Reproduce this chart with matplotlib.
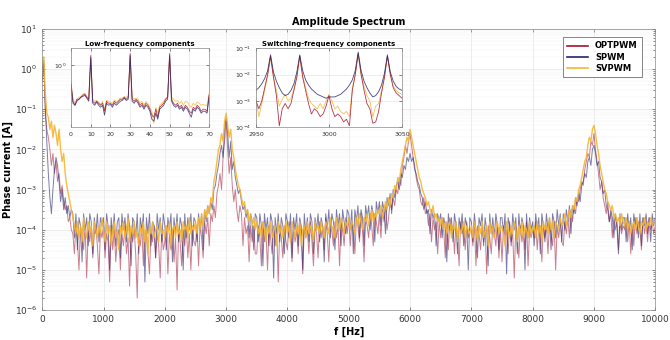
import numpy as np
import matplotlib.pyplot as plt
from matplotlib.ticker import LogLocator, NullFormatter

# ---- main spectrum, log10 amplitude every 25 Hz (0 ... 10000 Hz) ----
freq_step = 25
opt_main = [
    0.0, 0.25, -1.1, -1.5, -1.7, -2.0, -2.4, -2.1, -2.6, -2.3, -2.8, -2.6, -3.1, -2.9, -3.3, -3.5, -3.4, -3.8, -3.7, -4.0,
    -4.1, -4.6, -3.9, -4.3, -5.0, -3.9, -4.2, -4.5, -3.9, -5.2, -4.0, -4.3, -3.9, -4.7, -4.1, -3.9, -4.4, -5.1, -4.0, -4.2,
    -3.9, -4.7, -4.1, -4.3, -5.3, -3.9, -4.5, -4.0, -4.8, -4.2, -4.0, -5.0, -4.1, -4.4, -3.9, -4.6, -4.2, -5.4, -4.0, -4.3,
    -4.0, -4.6, -5.7, -4.1, -4.4, -3.9, -4.9, -4.2, -4.0, -4.6, -5.1, -4.0, -4.3, -3.9, -4.7, -4.1, -4.4, -5.2, -4.0, -4.5,
    -4.3, -3.9, -5.1, -4.1, -4.5, -4.0, -4.8, -4.2, -5.5, -4.0, -4.3, -4.9, -4.0, -4.4, -3.9, -4.7, -4.1, -5.0, -4.0, -4.3,
    -4.4, -3.9, -4.9, -3.9, -4.2, -4.7, -3.8, -4.1, -3.7, -4.4, -3.6, -3.8, -3.4, -3.7, -3.1, -2.9, -2.6, -3.0, -2.2, -1.8,
    -1.3, -2.0, -2.6, -2.2, -2.9, -3.3, -3.0, -3.5, -3.8, -3.4, -3.6, -4.4, -3.7, -4.1, -3.9, -4.8, -3.9, -4.3, -3.9, -4.6,
    -4.6, -3.9, -4.2, -4.9, -3.8, -4.3, -4.0, -5.0, -3.9, -4.2, -4.6, -3.9, -4.4, -4.0, -5.3, -3.9, -4.2, -4.7, -3.9, -4.3,
    -4.5, -3.8, -4.1, -4.8, -3.9, -4.3, -4.0, -4.6, -3.8, -4.1, -5.1, -3.9, -4.2, -4.0, -4.6, -3.8, -4.3, -4.9, -3.9, -4.1,
    -4.7, -3.8, -4.2, -3.9, -4.5, -3.7, -4.1, -4.8, -3.8, -4.0, -4.4, -3.8, -4.2, -3.9, -4.9, -3.8, -4.0, -4.4, -3.7, -4.1,
    -3.7, -4.4, -3.8, -4.0, -4.6, -3.7, -3.9, -4.3, -3.6, -4.0, -4.8, -3.7, -3.9, -4.2, -3.6, -3.9, -4.4, -3.6, -3.8, -4.1,
    -3.6, -4.2, -3.5, -3.8, -3.4, -4.0, -3.7, -3.3, -3.5, -3.2, -3.4, -3.0, -3.1, -2.7, -2.9, -2.4, -2.2, -1.9, -2.1, -1.8,
    -1.6, -1.9, -2.2, -2.4, -2.7, -2.9, -3.0, -3.3, -3.4, -3.2, -3.6, -3.5, -3.9, -3.6, -4.3, -3.7, -4.0, -3.8, -4.6, -3.8,
    -4.2, -3.7, -4.0, -4.7, -3.8, -4.5, -3.7, -4.1, -3.9, -4.6, -3.8, -4.2, -4.9, -3.8, -4.1, -3.9, -4.5, -3.8, -4.2, -4.0,
    -4.0, -4.4, -3.8, -4.9, -3.9, -4.1, -4.5, -3.9, -4.3, -4.0, -5.1, -3.9, -4.2, -4.6, -3.9, -4.1, -4.4, -3.8, -4.7, -4.0,
    -4.8, -3.9, -4.2, -4.0, -4.6, -3.8, -4.3, -4.1, -5.2, -3.9, -4.2, -4.7, -3.9, -4.3, -4.0, -4.5, -3.8, -4.9, -4.0, -4.2,
    -4.0, -4.2, -3.8, -4.5, -3.9, -4.1, -4.8, -3.8, -4.2, -3.9, -4.6, -3.8, -4.1, -4.4, -3.8, -5.0, -3.9, -4.2, -3.8, -4.3,
    -4.4, -3.8, -4.1, -3.7, -4.2, -3.5, -3.8, -3.4, -3.6, -3.2, -3.3, -3.0, -2.8, -2.9, -2.5, -2.3, -2.1, -2.2, -1.8, -1.9,
    -1.6, -2.0, -2.3, -2.6, -3.0, -2.8, -3.2, -3.4, -3.6, -3.3, -3.8, -3.6, -4.2, -3.7, -4.0, -3.8, -4.5, -3.8, -4.1, -3.9,
    -4.0, -3.7, -4.3, -3.8, -4.6, -3.9, -4.4, -3.7, -4.1, -3.8, -4.0, -4.5, -3.7, -4.1, -3.8, -4.3, -3.7, -4.0, -3.8, -4.1,
    -3.9,
]
spwm_main = [
    -0.3, 0.2, -0.9, -1.8, -2.6, -3.2, -3.6, -3.0, -2.5, -2.2, -2.4, -2.8, -3.3, -3.0, -3.5, -3.2, -3.6, -3.4, -3.7, -3.5,
    -3.6, -4.2, -3.6, -4.5, -3.7, -3.9, -4.8, -3.6, -4.0, -3.7, -4.4, -3.6, -3.8, -4.6, -3.7, -4.1, -3.6, -4.3, -3.7, -3.9,
    -3.7, -4.5, -3.6, -3.9, -5.0, -3.7, -4.1, -3.6, -4.4, -3.8, -3.7, -4.7, -3.6, -4.0, -3.7, -4.3, -3.6, -3.9, -4.9, -3.7,
    -3.8, -4.2, -3.6, -4.6, -3.7, -4.0, -3.6, -5.3, -3.7, -4.1, -3.6, -4.4, -3.8, -3.9, -4.7, -3.6, -4.0, -3.7, -4.3, -3.6,
    -3.9, -4.5, -3.7, -4.0, -3.6, -4.8, -3.7, -4.1, -3.6, -4.3, -3.7, -3.9, -5.0, -3.6, -4.2, -3.7, -4.0, -3.6, -4.4, -3.7,
    -3.8, -4.3, -3.6, -4.0, -3.6, -4.5, -3.5, -3.8, -3.4, -3.6, -3.3, -3.5, -3.0, -2.9, -2.6, -2.4, -2.1, -1.9, -2.2, -1.5,
    -1.2, -1.6, -2.2, -1.8, -2.5, -2.3, -2.7, -2.9, -3.1, -3.0, -3.3, -3.5, -3.4, -3.7, -3.5, -4.2, -3.6, -3.8, -4.5, -3.6,
    -3.7, -4.3, -3.6, -3.9, -4.9, -3.6, -4.0, -3.7, -4.4, -3.6, -3.8, -5.2, -3.7, -4.1, -3.6, -4.3, -3.7, -3.9, -4.6, -3.6,
    -3.8, -4.2, -3.6, -4.7, -3.7, -4.0, -3.6, -4.4, -3.7, -3.9, -5.0, -3.6, -4.1, -3.7, -4.3, -3.6, -3.8, -4.6, -3.7, -4.0,
    -3.6, -4.3, -3.7, -3.9, -4.8, -3.6, -4.0, -3.5, -4.2, -3.6, -3.8, -4.5, -3.5, -3.9, -3.6, -4.4, -3.5, -3.8, -4.1, -3.5,
    -3.6, -4.0, -3.5, -4.6, -3.5, -3.8, -3.4, -4.2, -3.5, -3.7, -4.4, -3.4, -3.7, -3.4, -4.0, -3.4, -3.6, -4.3, -3.3, -3.6,
    -3.3, -3.9, -3.3, -3.5, -4.1, -3.2, -3.4, -3.1, -3.6, -3.0, -3.2, -2.9, -2.8, -3.0, -2.6, -2.7, -2.4, -2.5, -2.2, -2.3,
    -2.1, -2.3, -2.2, -2.5, -2.6, -2.8, -2.9, -3.1, -3.2, -3.5, -3.3, -3.6, -3.5, -4.1, -3.5, -3.7, -3.6, -4.4, -3.6, -3.8,
    -3.6, -4.2, -3.7, -3.9, -4.8, -3.6, -4.0, -3.7, -4.3, -3.6, -3.9, -4.6, -3.7, -4.0, -3.6, -4.4, -3.7, -3.9, -5.0, -3.7,
    -3.8, -4.3, -3.6, -4.0, -4.7, -3.7, -3.9, -3.6, -4.4, -3.7, -4.0, -4.9, -3.6, -4.1, -3.7, -4.2, -3.6, -3.9, -4.5, -3.7,
    -3.7, -4.1, -3.6, -5.1, -3.7, -3.9, -4.4, -3.6, -4.0, -3.7, -4.6, -3.6, -4.1, -3.7, -3.9, -5.0, -3.6, -4.2, -3.7, -4.0,
    -3.8, -4.4, -3.6, -4.0, -3.7, -4.6, -3.6, -3.9, -4.3, -3.6, -4.0, -3.7, -4.5, -3.6, -3.8, -4.2, -3.5, -3.9, -3.6, -4.3,
    -3.6, -4.0, -3.5, -3.8, -3.4, -4.1, -3.4, -3.6, -3.2, -3.4, -3.1, -3.3, -2.9, -2.8, -2.6, -2.7, -2.3, -2.2, -2.4, -2.0,
    -1.9, -2.1, -2.4, -2.3, -2.7, -2.8, -3.1, -3.0, -3.4, -3.5, -3.8, -3.5, -3.7, -4.2, -3.6, -3.9, -4.6, -3.6, -4.0, -3.7,
    -3.7, -4.3, -3.6, -4.0, -3.7, -4.5, -3.6, -3.9, -3.7, -4.2, -3.6, -4.4, -3.7, -3.9, -3.6, -4.1, -3.7, -4.3, -3.6, -3.9,
    -3.7,
]
svpwm_main = [
    0.1, 0.3, -0.6, -1.1, -1.2, -1.5, -1.3, -1.7, -1.4, -1.6, -1.9, -1.5, -2.0, -2.3, -2.1, -2.6, -2.9, -3.1, -3.3, -3.5,
    -3.7, -3.9, -4.1, -3.8, -4.2, -3.9, -4.3, -3.7, -4.0, -4.2, -3.8, -4.1, -3.9, -4.4, -3.8, -4.0, -4.2, -3.9, -4.1, -3.7,
    -4.0, -4.3, -3.8, -4.1, -3.9, -4.4, -4.0, -3.8, -4.2, -4.0, -4.5, -3.9, -4.1, -3.8, -4.2, -4.0, -3.7, -4.3, -3.9, -4.1,
    -3.8, -4.2, -4.0, -4.4, -3.9, -4.1, -3.8, -4.3, -4.0, -4.6, -3.9, -4.1, -3.8, -4.2, -4.0, -3.9, -4.3, -3.8, -4.1, -4.0,
    -4.2, -3.9, -4.1, -3.8, -4.4, -4.0, -3.9, -4.2, -3.8, -4.1, -4.0, -4.3, -3.8, -4.0, -3.9, -4.2, -3.7, -4.1, -3.9, -4.0,
    -3.8, -4.1, -3.7, -4.0, -3.6, -3.9, -3.5, -3.7, -3.4, -3.6, -3.2, -3.3, -2.8, -2.6, -2.3, -2.0, -1.9, -1.6, -1.8, -1.3,
    -1.1, -1.4, -1.7, -1.5, -2.0, -2.2, -2.5, -2.7, -2.9, -3.0, -3.2, -3.4, -3.3, -3.6, -3.5, -3.8, -3.6, -3.9, -3.7, -4.0,
    -3.8, -4.1, -3.9, -4.2, -3.8, -4.0, -4.3, -3.9, -4.1, -3.8, -4.2, -4.0, -3.9, -4.4, -3.8, -4.1, -3.9, -4.2, -4.0, -3.8,
    -4.1, -3.9, -4.3, -3.8, -4.0, -4.2, -3.9, -4.1, -3.8, -4.4, -4.0, -3.9, -4.2, -3.8, -4.1, -3.9, -4.0, -4.3, -3.8, -4.0,
    -3.9, -4.1, -3.8, -4.0, -4.2, -3.8, -3.9, -4.1, -3.7, -4.0, -3.9, -4.2, -3.7, -3.9, -4.0, -3.7, -3.9, -4.1, -3.8, -3.9,
    -3.7, -4.0, -3.8, -3.9, -4.1, -3.7, -3.9, -3.6, -3.8, -4.0, -3.7, -3.8, -3.6, -3.9, -3.7, -3.5, -3.8, -3.6, -3.7, -3.5,
    -3.6, -3.4, -3.7, -3.5, -3.3, -3.5, -3.2, -3.4, -3.1, -3.2, -2.9, -3.0, -2.7, -2.8, -2.5, -2.3, -2.1, -1.9, -1.7, -1.8,
    -1.5, -1.7, -1.9, -2.1, -2.3, -2.5, -2.7, -2.8, -3.0, -3.1, -3.2, -3.4, -3.3, -3.5, -3.6, -3.4, -3.7, -3.6, -3.8, -3.7,
    -3.9, -3.7, -4.0, -3.8, -4.1, -3.9, -3.8, -4.2, -3.9, -4.0, -3.8, -4.3, -3.9, -4.1, -4.0, -3.8, -4.2, -3.9, -4.0, -4.1,
    -3.9, -4.2, -3.8, -4.0, -4.3, -3.9, -4.1, -3.8, -4.2, -4.0, -3.9, -4.4, -3.8, -4.1, -3.9, -4.2, -4.0, -3.8, -4.1, -4.0,
    -3.9, -4.1, -4.4, -3.8, -4.0, -4.2, -3.9, -4.1, -3.8, -4.0, -4.3, -3.9, -4.1, -3.8, -4.2, -3.9, -4.0, -4.2, -3.8, -4.1,
    -4.0, -3.9, -4.2, -3.8, -4.1, -3.9, -4.3, -3.8, -4.0, -3.9, -4.1, -3.7, -4.0, -3.8, -4.2, -3.8, -3.9, -4.0, -3.7, -3.9,
    -3.8, -3.6, -3.9, -3.7, -3.5, -3.7, -3.4, -3.5, -3.2, -3.3, -3.0, -2.9, -2.7, -2.5, -2.3, -2.2, -1.9, -1.7, -1.8, -1.5,
    -1.4, -1.6, -1.9, -2.1, -2.4, -2.6, -2.8, -3.0, -3.1, -3.3, -3.4, -3.5, -3.4, -3.7, -3.6, -3.8, -3.7, -3.9, -3.6, -3.8,
    -3.9, -3.7, -4.0, -3.8, -4.1, -3.9, -3.8, -4.0, -3.7, -3.9, -4.1, -3.8, -3.9, -3.7, -4.0, -3.8, -3.9, -3.7, -3.9, -3.8,
    -3.8,
]

# ---- low-frequency inset, log10 amplitude every 1 Hz (0 ... 70 Hz) ----
opt_low = [
    -0.45, -0.9, -1.0, -0.85, -0.85, -0.8, -0.75, -0.72, -0.8, -0.85,
    0.25, -0.9, -0.95, -0.9, -0.95, -1.0, -0.95, -1.15, -0.9, -0.95,
    -0.95, -1.0, -0.9, -0.95, -0.9, -0.85, -0.85, -0.8, -0.85, -0.8,
    0.3, -0.85, -0.9, -0.85, -0.9, -1.0, -0.95, -1.05, -0.95, -1.0,
    -1.1, -1.25, -1.3, -1.1, -1.3, -1.05, -1.0, -0.95, -0.85, -0.8,
    0.3, -0.85, -0.95, -1.0, -0.95, -1.05, -1.0, -1.1, -1.0, -1.05,
    -1.15, -1.2, -1.05, -1.1, -1.0, -1.05, -1.15, -1.1, -1.1, -1.15,
    -0.75,
]
spwm_low = [
    -0.5, -0.95, -1.0, -0.9, -0.85, -0.8, -0.78, -0.75, -0.82, -0.9,
    0.2, -0.95, -1.0, -0.92, -1.0, -1.05, -1.0, -1.25, -0.95, -1.0,
    -0.98, -1.05, -0.95, -1.0, -0.95, -0.9, -0.88, -0.82, -0.88, -0.85,
    0.25, -0.9, -0.95, -0.88, -0.95, -1.05, -1.0, -1.1, -1.0, -1.05,
    -1.15, -1.35, -1.4, -1.2, -1.35, -1.1, -1.05, -1.0, -0.9, -0.85,
    0.25, -0.9, -1.0, -1.05, -1.0, -1.1, -1.05, -1.15, -1.05, -1.1,
    -1.2, -1.3, -1.1, -1.15, -1.05, -1.1, -1.2, -1.15, -1.15, -1.2,
    -0.8,
]
svpwm_low = [
    -0.4, -0.85, -0.95, -0.85, -0.8, -0.78, -0.72, -0.7, -0.78, -0.82,
    0.15, -0.85, -0.9, -0.88, -0.92, -0.98, -0.9, -1.1, -0.88, -0.9,
    -0.92, -0.95, -0.88, -0.9, -0.88, -0.82, -0.82, -0.78, -0.8, -0.78,
    0.2, -0.8, -0.85, -0.82, -0.85, -0.95, -0.9, -1.0, -0.9, -0.95,
    -1.05, -1.15, -1.45, -1.05, -1.2, -1.0, -0.95, -0.9, -0.82, -0.78,
    0.2, -0.8, -0.85, -0.9, -0.88, -0.95, -0.9, -1.0, -0.9, -0.92,
    -1.0, -1.05, -0.95, -1.0, -0.92, -0.95, -1.0, -0.98, -1.0, -1.0,
    -0.7,
]

# ---- switching-frequency inset, log10 amplitude every 2 Hz (2950 ... 3050 Hz) ----
spwm_sw = [
    -2.6, -2.5, -2.35, -2.15, -1.85, -1.25, -1.9, -2.25, -2.5, -2.7,
    -2.8, -2.75, -2.6, -2.35, -1.9, -1.25, -1.85, -2.2, -2.4, -2.55,
    -2.65, -2.75, -2.8, -2.85, -2.9, -2.85, -2.85, -2.85, -2.8, -2.75,
    -2.65, -2.55, -2.4, -2.2, -1.85, -1.15, -1.85, -2.25, -2.5, -2.7,
    -2.85, -2.8, -2.65, -2.4, -1.95, -1.25, -1.9, -2.25, -2.45, -2.55,
    -2.6,
]
opt_sw = [
    -3.0, -3.3, -3.0, -2.5, -2.0, -1.3, -2.1, -2.8, -3.95, -3.3,
    -3.1, -3.3, -3.1, -2.6, -2.1, -1.3, -2.1, -2.6, -3.1, -3.5,
    -3.3, -3.4, -3.6, -3.5, -3.2, -2.8, -3.3, -3.6, -3.5, -3.6,
    -3.8, -3.7, -3.95, -2.6, -2.0, -1.2, -2.0, -2.6, -3.1, -3.3,
    -3.85, -3.8, -3.4, -2.7, -2.1, -1.3, -2.0, -2.5, -2.7, -2.8,
    -2.9,
]
svpwm_sw = [
    -2.9, -3.6, -3.1, -2.6, -2.05, -1.35, -2.1, -2.6, -3.2, -2.95,
    -2.75, -3.0, -2.9, -2.55, -2.05, -1.3, -2.05, -2.5, -2.9, -3.1,
    -3.2, -3.3, -3.1, -3.3, -3.0, -2.75, -3.0, -3.3, -3.2, -3.4,
    -3.5, -3.4, -3.6, -2.5, -2.0, -1.25, -2.0, -2.45, -2.8, -3.0,
    -3.6, -3.2, -3.1, -2.6, -2.1, -1.3, -2.0, -2.45, -2.6, -2.7,
    -2.75,
]

names = ['OPTPWM', 'SPWM', 'SVPWM']
colors = ['#A2142F', '#27246E', '#F6B531']

f_main = np.arange(len(opt_main)) * freq_step
f_low = np.arange(len(opt_low))
f_sw = 2950 + np.arange(len(opt_sw)) * 2

plt.rcParams['font.family'] = 'DejaVu Sans'
fig = plt.figure(figsize=(6.7, 3.4), dpi=100)


def style_axes(ax, size):
    ax.tick_params(which='both', direction='in', labelsize=size, top=True, right=True,
                   length=2, width=0.4, colors='#333333')
    ax.tick_params(which='minor', length=1.2)
    ax.grid(True, which='major', color='#dddddd', lw=0.4)
    for s in ax.spines.values():
        s.set_linewidth(0.5)
        s.set_color('#888888')


ax = fig.add_axes([0.063, 0.088, 0.915, 0.827])
series = [opt_main, spwm_main, svpwm_main]
alphas = [0.55, 0.6, 0.9]
widths = [0.7, 0.7, 1.0]
for vals, c, n, a, w in zip(series, colors, names, alphas, widths):
    ax.semilogy(f_main, 10 ** np.array(vals), color=c, lw=w, alpha=a, label=n)
ax.set_xlim(0, 10000)
ax.set_ylim(1e-6, 10)
ax.set_xticks(np.arange(0, 10001, 1000))
ax.yaxis.set_minor_locator(LogLocator(base=10, subs=np.arange(2, 10), numticks=20))
ax.yaxis.set_minor_formatter(NullFormatter())
style_axes(ax, 6.5)
ax.grid(True, which='minor', axis='y', color='#f0f0f0', lw=0.3)
ax.set_title('Amplitude Spectrum', fontsize=7, fontweight='bold', pad=3)
ax.set_xlabel('f [Hz]', fontsize=7, fontweight='bold', labelpad=2)
ax.set_ylabel('Phase current [A]', fontsize=7, fontweight='bold', labelpad=1)
leg = ax.legend(loc='upper right', bbox_to_anchor=(0.985, 0.985),
                prop={'weight': 'bold', 'size': 6}, handlelength=2.6,
                labelspacing=0.25, borderpad=0.5, fancybox=False, framealpha=1)
leg.get_frame().set_linewidth(0.5)
leg.get_frame().set_edgecolor('#555555')
for line in leg.get_lines():
    line.set_alpha(1)
    line.set_linewidth(1.2)

# low-frequency inset
ax1 = fig.add_axes([0.106, 0.626, 0.206, 0.232])
for vals, c in zip([svpwm_low, opt_low, spwm_low], [colors[2], colors[0], colors[1]]):
    ax1.semilogy(f_low, 10 ** np.array(vals), color=c, lw=0.6, alpha=0.8)
ax1.set_xlim(0, 70)
ax1.set_ylim(10 ** -1.55, 10 ** 0.43)
ax1.set_xticks(np.arange(0, 71, 10))
ax1.set_yticks([1])
ax1.yaxis.set_minor_locator(plt.NullLocator())
style_axes(ax1, 4.5)
ax1.set_title('Low-frequency components', fontsize=5, fontweight='bold', pad=2)

# switching-frequency inset
ax2 = fig.add_axes([0.382, 0.626, 0.218, 0.232])
for vals, c in zip([svpwm_sw, opt_sw, spwm_sw], [colors[2], colors[0], colors[1]]):
    ax2.semilogy(f_sw, 10 ** np.array(vals), color=c, lw=0.6, alpha=0.85)
ax2.set_xlim(2950, 3050)
ax2.set_ylim(1e-4, 1e-1)
ax2.set_xticks([2950, 3000, 3050])
ax2.yaxis.set_minor_locator(plt.NullLocator())
style_axes(ax2, 4.5)
ax2.set_title('Switching-frequency components', fontsize=5, fontweight='bold', pad=2)

fig.savefig('out.png', dpi=100)
